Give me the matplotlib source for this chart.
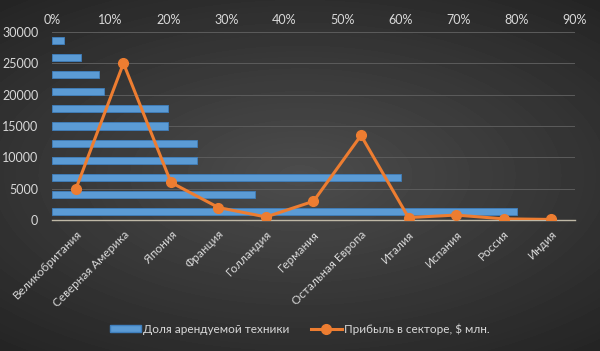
import numpy as np
import matplotlib
matplotlib.use("Agg")
import matplotlib.pyplot as plt
from matplotlib.patches import Patch
from matplotlib.lines import Line2D

plt.rcParams['font.family'] = ['Lato', 'DejaVu Sans']

# Data
categories = ['Великобритания', 'Северная Америка', 'Япония', 'Франция', 'Голландия',
              'Германия', 'Остальная Европа', 'Италия', 'Испания', 'Россия', 'Индия']
share = [0.80, 0.35, 0.60, 0.25, 0.25, 0.20, 0.20, 0.09, 0.08, 0.05, 0.02]
profit = [5000, 25000, 6000, 2000, 500, 3000, 13500, 400, 800, 200, 100]
pct_ticks = [0, 0.1, 0.2, 0.3, 0.4, 0.5, 0.6, 0.7, 0.8, 0.9]
y_ticks = [0, 5000, 10000, 15000, 20000, 25000, 30000]

bar_label = 'Доля арендуемой техники'
line_label = 'Прибыль в секторе, $ млн.'

text_col = '#d9d9d9'
bar_col = '#5b9bd5'
line_col = '#ed7d31'

fig = plt.figure(figsize=(6, 3.51), dpi=100)

# background radial gradient (dark grey, lighter in the middle)
bg = fig.add_axes([0, 0, 1, 1], zorder=-10)
yy, xx = np.mgrid[-1:1:351j, -1:1:600j]
r = np.sqrt((xx * 0.85) ** 2 + (yy * 1.0) ** 2)
shade = 0.30 - 0.12 * np.clip(r, 0, 1.3)
bg.imshow(shade, cmap='gray', vmin=0, vmax=1, aspect='auto')
bg.axis('off')

pos = [0.087, 0.373, 0.871, 0.536]

# gridlines sit under the bars
axg = fig.add_axes(pos, zorder=0)
axg.patch.set_alpha(0)
axg.set_ylim(0, 30000)
axg.set_yticks(y_ticks[1:])
axg.set_xticks([])
axg.tick_params(axis='y', length=0, labelleft=False)
axg.grid(axis='y', color='#5c5c5c', linewidth=0.7)
for s in axg.spines.values():
    s.set_visible(False)

# bars (top percentage axis)
axb = fig.add_axes(pos, zorder=1)
axb.patch.set_alpha(0)
yb = np.arange(len(categories))
axb.barh(yb, share, height=0.42, color=bar_col, edgecolor='#3f7fbd', linewidth=0.6)
axb.set_xlim(0, 0.9)
axb.set_ylim(-0.5, len(categories) - 0.5)
axb.xaxis.tick_top()
axb.set_xticks(pct_ticks)
axb.set_xticklabels([f'{int(round(p * 100))}%' for p in pct_ticks])
axb.set_yticks([])
axb.tick_params(axis='x', length=0, colors=text_col, labelsize=9, pad=4)
for s in axb.spines.values():
    s.set_visible(False)

# line (left value axis, bottom category axis)
ax = fig.add_axes(pos, zorder=2)
ax.patch.set_alpha(0)
x = np.arange(len(categories))
ax.plot(x, profit, color=line_col, linewidth=2.2, marker='o', markersize=7, zorder=5)
ax.set_xlim(-0.5, len(categories) - 0.5)
ax.set_ylim(0, 30000)
ax.set_yticks(y_ticks)
ax.set_xticks(x)
ax.set_xticklabels(categories, rotation=45, ha='right', rotation_mode='anchor')
ax.tick_params(axis='both', length=0, colors=text_col, labelsize=9)
ax.tick_params(axis='x', labelsize=8.5)
ax.tick_params(axis='y', pad=10)
ax.tick_params(axis='x', pad=6)
for s in ['top', 'right', 'left']:
    ax.spines[s].set_visible(False)
ax.spines['bottom'].set_color('#bfb8a6')
ax.spines['bottom'].set_linewidth(1.0)

handles = [Patch(facecolor=bar_col, edgecolor='#3f7fbd', label=bar_label),
           Line2D([0], [0], color=line_col, linewidth=2.2, marker='o', markersize=7, label=line_label)]
fig.legend(handles=handles, loc='center', bbox_to_anchor=(0.5, 0.063), ncol=2, frameon=False,
           fontsize=8.5, labelcolor=text_col, handlelength=2.6, handleheight=0.5,
           columnspacing=1.8, handletextpad=0.2)

fig.savefig('out.png', dpi=100)
